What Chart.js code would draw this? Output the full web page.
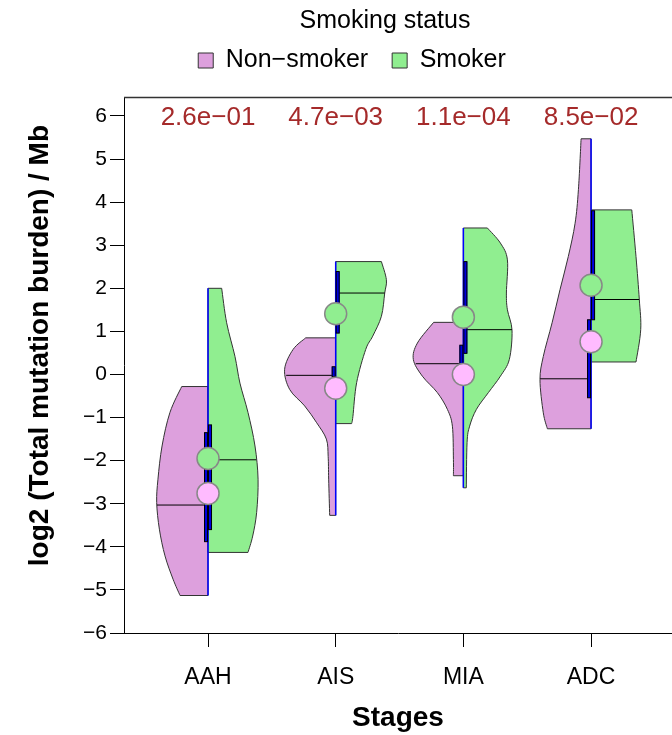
<!DOCTYPE html>
<html>
<head>
<meta charset="utf-8">
<script src="https://cdn.jsdelivr.net/npm/chart.js@4/dist/chart.umd.min.js"></script>
<style>
  html, body { margin: 0; padding: 0; background: #fff; overflow: hidden; }
  canvas { display: block; }
</style>
</head>
<body>
<canvas id="chart" width="672" height="735"></canvas>
<script>
// Stages and Wilcoxon p-values shown above each pair
const stages = ['AAH', 'AIS', 'MIA', 'ADC'];
const pValues = ['2.6e−01', '4.7e−03', '1.1e−04', '8.5e−02'];

// mean markers (log2 TMB)
const meanNonSmoker = [-2.76, -0.32, 0.0, 0.76];
const meanSmoker = [-1.95, 1.41, 1.33, 2.07];

// medians and inner boxes
const medianNonSmoker = [-3.03, -0.02, 0.25, -0.1];
const medianSmoker = [-1.98, 1.89, 1.04, 1.74];
const boxNonSmoker = [[-3.88, -1.35], [-0.05, 0.18], [0.22, 0.68], [-0.54, 1.27]];
const boxSmoker = [[-3.6, -1.17], [0.96, 2.39], [0.49, 2.62], [1.27, 3.8]];

// violin outlines, top to bottom: [value, half width in stage units]
const violinNonSmoker = [
  [[-0.28, 0.206], [-0.88, 0.298], [-1.66, 0.36], [-2.43, 0.392], [-2.97, 0.402], [-3.59, 0.381], [-4.21, 0.337], [-4.75, 0.274], [-5.13, 0.219]],
  [[0.85, 0.235], [0.58, 0.334], [0.12, 0.40], [-0.35, 0.36], [-0.73, 0.243], [-1.12, 0.149], [-1.5, 0.073], [-1.9, 0.059], [-2.43, 0.055], [-3.27, 0.047]],
  [[1.21, 0.233], [0.73, 0.36], [0.35, 0.392], [-0.04, 0.321], [-0.42, 0.204], [-0.81, 0.125], [-1.2, 0.086], [-1.97, 0.078], [-2.35, 0.078]],
  [[5.47, 0.078], [4.29, 0.099], [3.51, 0.125], [2.74, 0.178], [1.97, 0.243], [1.2, 0.305], [0.42, 0.374], [-0.12, 0.40], [-0.89, 0.374], [-1.26, 0.342]]
];
const violinSmoker = [
  [[2.0, 0.107], [1.2, 0.146], [0.42, 0.211], [-0.2, 0.25], [-0.88, 0.313], [-1.66, 0.368], [-2.43, 0.392], [-3.2, 0.381], [-3.75, 0.35], [-4.13, 0.313]],
  [[2.62, 0.358], [2.2, 0.397], [1.89, 0.384], [1.35, 0.358], [0.89, 0.29], [0.58, 0.235], [-0.19, 0.164], [-0.97, 0.135], [-1.14, 0.125]],
  [[3.4, 0.188], [3.05, 0.29], [2.66, 0.345], [1.89, 0.337], [1.5, 0.345], [1.03, 0.381], [0.35, 0.36], [-0.04, 0.29], [-0.42, 0.196], [-0.81, 0.102], [-1.2, 0.049], [-1.58, 0.029], [-2.63, 0.023]],
  [[3.82, 0.319], [2.74, 0.352], [1.74, 0.378], [1.04, 0.389], [0.29, 0.352]]
];

const PLUM = '#DDA0DD';
const GREEN = '#90EE90';
const FONT = "'Liberation Sans', Arial, sans-serif";
Chart.defaults.font.family = FONT;
Chart.defaults.color = '#000';

function widthAt(outline, v) {
  for (let k = 0; k < outline.length - 1; k++) {
    const [v1, w1] = outline[k], [v2, w2] = outline[k + 1];
    if (v <= v1 && v >= v2) return w1 + (w2 - w1) * (v1 - v) / (v1 - v2);
  }
  return outline[0][1];
}

function drawHalf(ctx, x, y, pos, outline, side, color, median) {
  const cx = x.getPixelForValue(pos);
  const pts = outline.map(([v, w]) => ({ px: x.getPixelForValue(pos + side * w), py: y.getPixelForValue(v) }));
  ctx.beginPath();
  ctx.moveTo(cx, pts[0].py);
  ctx.lineTo(pts[0].px, pts[0].py);
  for (let k = 0; k < pts.length - 1; k++) {
    const p0 = pts[Math.max(k - 1, 0)], p1 = pts[k], p2 = pts[k + 1], p3 = pts[Math.min(k + 2, pts.length - 1)];
    ctx.bezierCurveTo(
      p1.px + (p2.px - p0.px) / 6, p1.py + (p2.py - p0.py) / 6,
      p2.px - (p3.px - p1.px) / 6, p2.py - (p3.py - p1.py) / 6,
      p2.px, p2.py);
  }
  ctx.lineTo(cx, pts[pts.length - 1].py);
  ctx.closePath();
  ctx.fillStyle = color;
  ctx.fill();
  ctx.strokeStyle = '#333';
  ctx.lineWidth = 1;
  ctx.stroke();
  // median
  const my = y.getPixelForValue(median);
  ctx.beginPath();
  ctx.moveTo(cx, my);
  ctx.lineTo(x.getPixelForValue(pos + side * widthAt(outline, median)), my);
  ctx.strokeStyle = '#000';
  ctx.stroke();
}

const violins = {
  id: 'violins',
  beforeDatasetsDraw(chart) {
    const { ctx, scales: { x, y } } = chart;
    ctx.save();
    stages.forEach((s, i) => {
      const pos = i + 1;
      drawHalf(ctx, x, y, pos, violinNonSmoker[i], -1, PLUM, medianNonSmoker[i]);
      drawHalf(ctx, x, y, pos, violinSmoker[i], 1, GREEN, medianSmoker[i]);
      const cx = x.getPixelForValue(pos);
      const top = Math.max(violinNonSmoker[i][0][0], violinSmoker[i][0][0]);
      const bot = Math.min(violinNonSmoker[i].at(-1)[0], violinSmoker[i].at(-1)[0]);
      ctx.beginPath();
      ctx.moveTo(cx, y.getPixelForValue(top));
      ctx.lineTo(cx, y.getPixelForValue(bot));
      ctx.strokeStyle = '#0000FF';
      ctx.lineWidth = 1.5;
      ctx.stroke();
      // inner boxes
      ctx.lineWidth = 1;
      [[boxNonSmoker[i], -4], [boxSmoker[i], 0]].forEach(([b, dx]) => {
        const y1 = y.getPixelForValue(b[1]), y2 = y.getPixelForValue(b[0]);
        ctx.fillStyle = '#0000DD';
        ctx.fillRect(cx + dx, y1, 4, y2 - y1);
        ctx.strokeStyle = '#000';
        ctx.strokeRect(cx + dx + 0.5, y1, 3, y2 - y1);
      });
    });
    ctx.restore();
  },
  afterDatasetsDraw(chart) {
    const { ctx, chartArea, scales: { x, y } } = chart;
    ctx.save();
    ctx.font = '26px ' + FONT;
    ctx.fillStyle = '#A52A2A';
    ctx.textAlign = 'center';
    ctx.textBaseline = 'middle';
    pValues.forEach((p, i) => ctx.fillText(p, x.getPixelForValue(i + 1), y.getPixelForValue(5.95)));
    ctx.beginPath();
    ctx.moveTo(chartArea.left, chartArea.top + 0.5);
    ctx.lineTo(chartArea.right, chartArea.top + 0.5);
    ctx.strokeStyle = '#333';
    ctx.lineWidth = 1.5;
    ctx.stroke();
    ctx.restore();
  }
};

// put the legend title and the legend row where the original has them
const placeHeader = {
  id: 'placeHeader',
  beforeLayout(chart) {
    const lg = chart.legend;
    if (lg && !lg._patched) {
      const fit = lg.fit;
      lg.fit = function () { fit.call(this); this.height = 67; };
      lg._patched = true;
    }
  },
  afterLayout(chart) {
    const lg = chart.legend, tb = chart.titleBlock;
    lg.left = 152; lg.right = 552; lg.top = 24; lg.bottom = 95;
    tb.left = 235; tb.right = 535; tb.top = 6; tb.bottom = 36;
  }
};

new Chart(document.getElementById('chart'), {
  type: 'scatter',
  data: {
    datasets: [
      {
        label: 'Non−smoker',
        data: meanNonSmoker.map((v, i) => ({ x: i + 1, y: v })),
        backgroundColor: '#FFBBFF', borderColor: '#888', borderWidth: 1.5, pointRadius: 11
      },
      {
        label: 'Smoker',
        data: meanSmoker.map((v, i) => ({ x: i + 1, y: v })),
        backgroundColor: GREEN, borderColor: '#888', borderWidth: 1.5, pointRadius: 11
      }
    ]
  },
  options: {
    responsive: false,
    animation: false,
    layout: { padding: 0, autoPadding: false },
    plugins: {
      tooltip: { enabled: false },
      title: {
        display: true, text: 'Smoking status', padding: 0,
        font: { size: 25, weight: 'normal' }, color: '#000'
      },
      legend: {
        display: true,
        labels: {
          boxWidth: 15, boxHeight: 15, padding: 24, color: '#000',
          font: { size: 25 },
          generateLabels: () => [
            { text: 'Non−smoker', fillStyle: PLUM, strokeStyle: '#333', lineWidth: 1, datasetIndex: 0 },
            { text: 'Smoker', fillStyle: GREEN, strokeStyle: '#333', lineWidth: 1, datasetIndex: 1 }
          ]
        }
      }
    },
    scales: {
      x: {
        type: 'linear', min: 0.342, max: 4.634,
        afterBuildTicks: s => { s.ticks = stages.map((_, i) => ({ value: i + 1 })); },
        afterFit: s => { s.height = 102; },
        ticks: { callback: v => stages[Math.round(v) - 1], font: { size: 23 }, color: '#000', padding: 17, maxRotation: 0 },
        grid: { display: true, drawOnChartArea: false, drawTicks: true, tickLength: 14, color: '#000' },
        border: { display: true, color: '#000', width: 1 },
        title: { display: true, text: 'Stages', font: { size: 28, weight: 'bold' }, color: '#000', padding: { top: 0, bottom: 0 } }
      },
      y: {
        type: 'linear', min: -6, max: 6.44,
        afterBuildTicks: s => { s.ticks = [-6, -5, -4, -3, -2, -1, 0, 1, 2, 3, 4, 5, 6].map(v => ({ value: v })); },
        afterFit: s => { s.width = 124; },
        ticks: { callback: v => (v < 0 ? '−' + Math.abs(v) : String(v)), font: { size: 21 }, color: '#000', padding: 3 },
        grid: { display: true, drawOnChartArea: false, drawTicks: true, tickLength: 14, color: '#000' },
        border: { display: true, color: '#000', width: 1 },
        title: { display: true, text: '     log2 (Total mutation burden) / Mb', font: { size: 28, weight: 'bold' }, color: '#000', padding: { top: 23, bottom: 0 } }
      }
    }
  },
  plugins: [violins, placeHeader]
});
</script>
</body>
</html>
